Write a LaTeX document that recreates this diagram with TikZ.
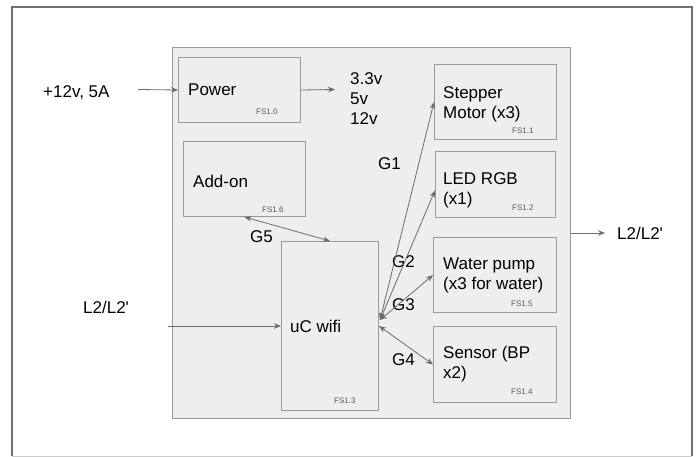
\documentclass[tikz,border=0pt]{standalone}
\usepackage{fontspec}
\setmainfont{Liberation Sans}
\usetikzlibrary{arrows.meta,positioning,calc}
\definecolor{panelc}{HTML}{EEEEEE}
\definecolor{linec}{HTML}{9A9A9A}
\definecolor{arrc}{HTML}{6C6C6C}
\definecolor{framec}{HTML}{707070}
\tikzset{
  blk/.style={draw=linec, fill=panelc, line width=1pt, inner sep=0pt, anchor=north west},
  txt/.style={font=\fontsize{17}{20}\selectfont, align=left, inner sep=0pt, anchor=west},
  tag/.style={font=\fontsize{8}{9}\selectfont, text=black!65, inner sep=0pt, anchor=west},
  arr/.style={-{Stealth[length=7pt,width=5.5pt]}, draw=arrc, line width=0.8pt},
  darr/.style={{Stealth[length=7pt,width=5.5pt]}-{Stealth[length=7pt,width=5.5pt]}, draw=arrc, line width=0.8pt},
}
\begin{document}
\begin{tikzpicture}[x=1pt, y=-1pt]
  \useasboundingbox (0,0) rectangle (698,457);
  \draw[framec, line width=1.2pt] (12,456) -- (12,7) -- (692,7) -- (692,456);
  \draw[black!20, line width=1pt] (12,456) -- (692,456);
  \node[blk, minimum width=398pt, minimum height=371pt] (panel) at (172,47) {};
  \node[blk, minimum width=122pt, minimum height=65pt] (power) at (178,57) {};
  \node[blk, minimum width=122pt, minimum height=75pt] (addon) at (183,141) {};
  \node[blk, minimum width=97pt, minimum height=169pt] (uc) at (281,241) {};
  \node[blk, minimum width=122pt, minimum height=75pt] (step) at (434,64) {};
  \node[blk, minimum width=120pt, minimum height=66pt] (led) at (435,151) {};
  \node[blk, minimum width=123pt, minimum height=75pt] (pump) at (433,237) {};
  \node[blk, minimum width=123pt, minimum height=76pt] (sens) at (433,326) {};
  \node[txt] (power-t) at (188,90) {Power};
  \node[txt] (addon-t) at (193,181) {Add-on};
  \node[txt] (uc-t) at (290,326) {uC wifi};
  \node[txt] (step-t) at (443,104) {Stepper\\Motor (x3)};
  \node[txt] (led-t) at (443,190) {LED RGB\\(x1)};
  \node[txt] (pump-t) at (443,275) {Water pump\\(x3 for water)};
  \node[txt] (sens-t) at (443,364) {Sensor (BP\\x2)};
  \node[tag] (fs10) at (256,112) {FS1.0};
  \node[tag] (fs16) at (262,210) {FS1.6};
  \node[tag] (fs13) at (334,401) {FS1.3};
  \node[tag] (fs11) at (512,131) {FS1.1};
  \node[tag] (fs12) at (512,208) {FS1.2};
  \node[tag] (fs15) at (511,304) {FS1.5};
  \node[tag] (fs14) at (511,392) {FS1.4};
  \node[txt] (supply) at (43,93) {+12v, 5A};
  \node[txt] (rails) at (350,99) {3.3v\\5v\\12v};
  \node[txt] (l2in) at (83,307) {L2/L2\textquotesingle};
  \node[txt] (l2out) at (617,233) {L2/L2\textquotesingle};
  \node[txt] (g1) at (378,164) {G1};
  \node[txt] (g2) at (392,262) {G2};
  \node[txt] (g3) at (392,305) {G3};
  \node[txt] (g4) at (392,360) {G4};
  \node[txt] (g5) at (250,237) {G5};
  \coordinate (pin) at (138,89.5);
  \coordinate (pout) at (335,89.5);
  \coordinate (lin) at ($(panel.west |- uc.west)+(-4,0)$);
  \coordinate (hub) at ($(uc.east)+(1,-6)$);
  \draw[arr] (pin) -- (power.west);
  \draw[arr] (power.east) -- (pout);
  \draw[arr] (lin) -- (uc.west);
  \draw[arr, shorten >=12pt] (panel.east) -- (l2out.west);
  \draw[darr] (hub) -- (step.west);
  \draw[darr] (hub) -- ($(led.west)+(0,6)$);
  \draw[darr] (hub) -- (pump.west);
  \draw[darr] (uc.east) -- (sens.west);
  \draw[darr] (addon.south) -- (uc.north);
\end{tikzpicture}
\end{document}
